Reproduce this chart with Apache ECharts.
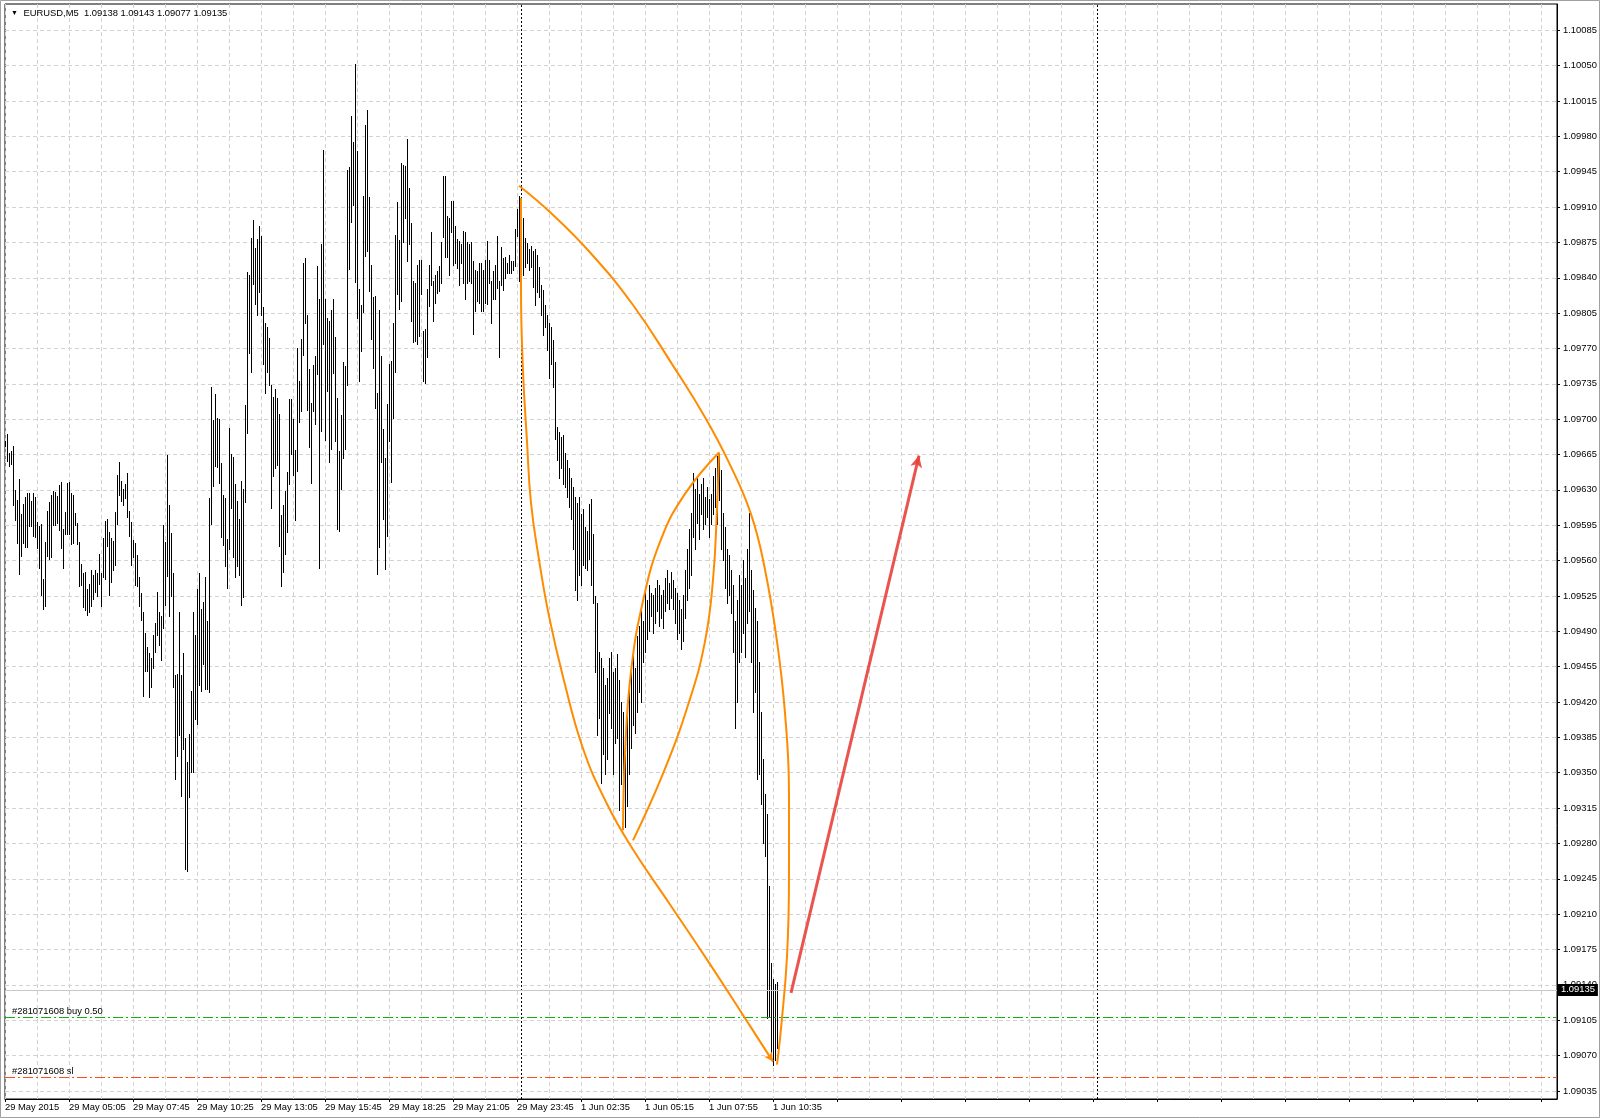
<!DOCTYPE html>
<html><head><meta charset="utf-8">
<script src="https://cdn.jsdelivr.net/npm/echarts@6/dist/echarts.min.js"></script>
<style>html,body{margin:0;padding:0;background:#fff}#c{width:1600px;height:1118px}</style>
</head><body><div id="c"></div>
<script>
const symbolName = 'EURUSD,M5';
const lastOHLC = ['1.09138', '1.09143', '1.09077', '1.09135'];

const highs = [
1.09678,1.09685,1.09667,1.09668,1.09673,1.09630,1.09620,1.09641,1.09606,1.09616,
1.09623,1.09627,1.09627,1.09619,1.09627,1.09623,1.09598,1.09594,1.09596,1.09542,
1.09578,1.09609,1.09618,1.09625,1.09629,1.09628,1.09624,1.09635,1.09638,1.09591,
1.09608,1.09637,1.09638,1.09627,1.09625,1.09607,1.09597,1.09578,1.09557,1.09548,
1.09549,1.09532,1.09537,1.09551,1.09546,1.09551,1.09548,1.09567,1.09548,1.09582,
1.09599,1.09601,1.09588,1.09582,1.09579,1.09608,1.09645,1.09658,1.09639,1.09631,
1.09636,1.09647,1.09609,1.09598,1.09580,1.09577,1.09566,1.09544,1.09528,1.09509,
1.09488,1.09474,1.09469,1.09464,1.09486,1.09498,1.09529,1.09509,1.09505,1.09595,
1.09578,1.09665,1.09615,1.09587,1.09548,1.09447,1.09448,1.09509,1.09447,1.09469,
1.09384,1.09361,1.09388,1.09431,1.09509,1.09486,1.09532,1.09548,1.09512,1.09519,
1.09544,1.09500,1.09622,1.09732,1.09699,1.09725,1.09701,1.09700,1.09657,1.09625,
1.09622,1.09581,1.09691,1.09666,1.09663,1.09636,1.09619,1.09601,1.09639,1.09631,
1.09714,1.09846,1.09843,1.09879,1.09897,1.09869,1.09878,1.09891,1.09881,1.09811,
1.09795,1.09791,1.09780,1.09734,1.09722,1.09730,1.09721,1.09705,1.09605,1.09615,
1.09629,1.09648,1.09720,1.09720,1.09700,1.09669,1.09770,1.09738,1.09779,1.09855,
1.09860,1.09803,1.09750,1.09716,1.09754,1.09763,1.09852,1.09819,1.09873,1.09966,
1.09819,1.09800,1.09797,1.09808,1.09819,1.09781,1.09721,1.09668,1.09704,1.09757,
1.09753,1.09947,1.09950,1.10000,1.09974,1.10052,1.09965,1.09829,1.09813,1.09921,
1.09991,1.10006,1.09920,1.09853,1.09821,1.09822,1.09726,1.09808,1.09763,1.09690,
1.09662,1.09715,1.09755,1.09758,1.09795,1.09882,1.09915,1.09877,1.09954,1.09952,
1.09951,1.09977,1.09929,1.09894,1.09837,1.09835,1.09853,1.09858,1.09858,1.09787,
1.09789,1.09829,1.09853,1.09885,1.09837,1.09843,1.09847,1.09852,1.09875,1.09941,
1.09941,1.09901,1.09899,1.09916,1.09916,1.09891,1.09878,1.09876,1.09873,1.09886,
1.09885,1.09875,1.09873,1.09875,1.09857,1.09848,1.09847,1.09855,1.09855,1.09848,
1.09858,1.09876,1.09858,1.09837,1.09847,1.09853,1.09881,1.09837,1.09870,1.09860,
1.09861,1.09855,1.09863,1.09857,1.09857,1.09888,1.09908,1.09921,1.09919,1.09899,
1.09879,1.09874,1.09868,1.09871,1.09866,1.09868,1.09863,1.09851,1.09833,1.09828,
1.09813,1.09803,1.09795,1.09791,1.09778,1.09757,1.09692,1.09687,1.09682,1.09684,
1.09667,1.09660,1.09652,1.09642,1.09633,1.09623,1.09617,1.09623,1.09606,1.09611,
1.09593,1.09589,1.09616,1.09621,1.09586,1.09525,1.09518,1.09470,1.09464,1.09454,
1.09437,1.09444,1.09464,1.09470,1.09450,1.09454,1.09468,1.09442,1.09420,1.09410,
1.09389,1.09420,1.09442,1.09450,1.09470,1.09454,1.09485,1.09495,1.09510,1.09500,
1.09531,1.09521,1.09536,1.09528,1.09526,1.09533,1.09541,1.09536,1.09526,1.09531,
1.09543,1.09551,1.09538,1.09549,1.09541,1.09533,1.09528,1.09521,1.09512,1.09526,
1.09551,1.09571,1.09591,1.09607,1.09647,1.09631,1.09642,1.09626,1.09636,1.09642,
1.09623,1.09633,1.09621,1.09626,1.09644,1.09652,1.09664,1.09667,1.09650,1.09607,
1.09593,1.09571,1.09566,1.09551,1.09536,1.09500,1.09521,1.09546,1.09536,1.09561,
1.09543,1.09571,1.09607,1.09551,1.09531,1.09513,1.09500,1.09460,1.09410,1.09364,
1.09329,1.09309,1.09238,1.09162,1.09146,1.09141,1.09143
];

const lows = [
1.09673,1.09659,1.09654,1.09656,1.09615,1.09600,1.09577,1.09547,1.09565,1.09577,
1.09573,1.09573,1.09594,1.09594,1.09584,1.09583,1.09572,1.09553,1.09526,1.09512,
1.09515,1.09565,1.09562,1.09564,1.09595,1.09595,1.09597,1.09590,1.09572,1.09553,
1.09586,1.09586,1.09586,1.09576,1.09577,1.09595,1.09576,1.09535,1.09536,1.09514,
1.09511,1.09506,1.09509,1.09515,1.09522,1.09529,1.09525,1.09537,1.09515,1.09544,
1.09542,1.09574,1.09526,1.09539,1.09551,1.09556,1.09596,1.09625,1.09619,1.09615,
1.09622,1.09603,1.09584,1.09556,1.09564,1.09536,1.09535,1.09515,1.09501,1.09426,
1.09451,1.09451,1.09425,1.09435,1.09454,1.09470,1.09486,1.09476,1.09462,1.09493,
1.09516,1.09545,1.09505,1.09525,1.09435,1.09344,1.09367,1.09387,1.09327,1.09373,
1.09255,1.09253,1.09326,1.09351,1.09351,1.09403,1.09398,1.09437,1.09431,1.09458,
1.09433,1.09433,1.09430,1.09596,1.09634,1.09654,1.09653,1.09637,1.09583,1.09575,
1.09555,1.09533,1.09571,1.09612,1.09564,1.09544,1.09555,1.09546,1.09516,1.09524,
1.09618,1.09686,1.09766,1.09747,1.09834,1.09814,1.09803,1.09826,1.09803,1.09755,
1.09726,1.09747,1.09734,1.09612,1.09644,1.09652,1.09655,1.09574,1.09535,1.09549,
1.09567,1.09588,1.09636,1.09666,1.09645,1.09600,1.09649,1.09697,1.09708,1.09764,
1.09795,1.09709,1.09672,1.09637,1.09708,1.09695,1.09745,1.09553,1.09688,1.09774,
1.09679,1.09728,1.09658,1.09670,1.09746,1.09678,1.09591,1.09589,1.09631,1.09662,
1.09670,1.09734,1.09849,1.09895,1.09912,1.09836,1.09800,1.09738,1.09767,1.09806,
1.09862,1.09866,1.09827,1.09779,1.09751,1.09711,1.09547,1.09573,1.09658,1.09601,
1.09552,1.09584,1.09678,1.09638,1.09701,1.09747,1.09824,1.09809,1.09817,1.09875,
1.09899,1.09857,1.09873,1.09797,1.09776,1.09777,1.09774,1.09782,1.09824,1.09738,
1.09736,1.09762,1.09812,1.09833,1.09797,1.09815,1.09825,1.09827,1.09835,1.09880,
1.09861,1.09861,1.09843,1.09885,1.09853,1.09855,1.09850,1.09833,1.09855,1.09835,
1.09819,1.09835,1.09837,1.09835,1.09784,1.09807,1.09817,1.09815,1.09807,1.09807,
1.09815,1.09814,1.09835,1.09795,1.09819,1.09819,1.09830,1.09762,1.09833,1.09828,
1.09840,1.09845,1.09845,1.09845,1.09848,1.09852,1.09881,1.09837,1.09828,1.09843,
1.09851,1.09855,1.09848,1.09851,1.09831,1.09813,1.09826,1.09821,1.09803,1.09783,
1.09791,1.09768,1.09741,1.09755,1.09732,1.09680,1.09660,1.09642,1.09652,1.09636,
1.09633,1.09623,1.09613,1.09601,1.09571,1.09531,1.09521,1.09546,1.09536,1.09556,
1.09553,1.09551,1.09562,1.09536,1.09518,1.09450,1.09387,1.09404,1.09340,1.09369,
1.09349,1.09364,1.09409,1.09394,1.09349,1.09379,1.09384,1.09313,1.09339,1.09324,
1.09296,1.09317,1.09349,1.09374,1.09397,1.09389,1.09410,1.09430,1.09420,1.09460,
1.09470,1.09482,1.09490,1.09505,1.09488,1.09498,1.09510,1.09495,1.09503,1.09493,
1.09510,1.09518,1.09512,1.09523,1.09512,1.09498,1.09482,1.09488,1.09472,1.09480,
1.09503,1.09521,1.09533,1.09546,1.09583,1.09571,1.09597,1.09581,1.09606,1.09591,
1.09596,1.09603,1.09583,1.09596,1.09606,1.09613,1.09596,1.09620,1.09571,1.09561,
1.09533,1.09518,1.09526,1.09508,1.09470,1.09394,1.09420,1.09460,1.09470,1.09488,
1.09465,1.09498,1.09510,1.09460,1.09410,1.09430,1.09344,1.09349,1.09319,1.09280,
1.09268,1.09107,1.09109,1.09072,1.09061,1.09066,1.09077
];

// x-axis tick labels (one every 32 bars)
const xTickLabels = ['29 May 2015','29 May 05:05','29 May 07:45','29 May 10:25','29 May 13:05',
  '29 May 15:45','29 May 18:25','29 May 21:05','29 May 23:45','1 Jun 02:35','1 Jun 05:15',
  '1 Jun 07:55','1 Jun 10:35'];
// y-axis tick values
const yTickValues = [1.09035,1.09070,1.09105,1.09140,1.09175,1.09210,1.09245,1.09280,1.09315,1.09350,
  1.09385,1.09420,1.09455,1.09490,1.09525,1.09560,1.09595,1.09630,1.09665,1.09700,1.09735,1.09770,
  1.09805,1.09840,1.09875,1.09910,1.09945,1.09980,1.10015,1.10050,1.10085];

const bidPrice = 1.09135;
const buyPrice = 1.09108;
const slPrice = 1.09049;
const orderLabels = ['#281071608 buy 0.50', '#281071608 sl'];
const daySeparators = [258, 546];
const totalSlots = 777;

// drawn annotation objects: [bar index, price]
const outerArc = [[257,1.09931],[273,1.09904],[293,1.09864],[314,1.09813],[334,1.09753],[350,1.09702],
  [362,1.09657],[373,1.09606],[380,1.09551],[386,1.09480],[390,1.09409],[392,1.09329],[392,1.09248],
  [391,1.09168],[388,1.09097],[386,1.09061]];
const leftArc = [[258,1.09919],[258,1.09830],[259,1.09748],[261,1.09678],[263,1.09617],[267,1.09561],
  [272,1.09505],[279,1.09445],[289,1.09374],[301,1.09319],[314,1.09274],[332,1.09221],[352,1.09162],
  [370,1.09107],[384,1.09064]];
const innerUp = [[309,1.09293],[310,1.09369],[313,1.09450],[319,1.09520],[328,1.09581],[340,1.09626],[357,1.09667]];
const innerDown = [[357,1.09667],[356,1.09611],[354,1.09541],[350,1.09480],[342,1.09420],[329,1.09349],[314,1.09283]];
const redArrow = [[393,1.09132],[457,1.09664]];

// categories: 5-minute bar times
const categories = [];
const pad = n => (n < 10 ? '0' : '') + n;
for (let i = 0; i < totalSlots; i++) {
  let t;
  if (i < 258) t = Date.UTC(2015, 4, 29, 2, 25) + i * 300000;
  else t = Date.UTC(2015, 5, 1, 0, 5) + (i - 258) * 300000;
  const d = new Date(t);
  const mon = ['Jan','Feb','Mar','Apr','May','Jun','Jul','Aug','Sep','Oct','Nov','Dec'][d.getUTCMonth()];
  categories.push(d.getUTCDate() + ' ' + mon + ' ' + pad(d.getUTCHours()) + ':' + pad(d.getUTCMinutes()));
}

const barData = highs.map((h, i) => [i, h, lows[i]]);
const FONT = 'Liberation Sans';
const FS = 9.4;
const ORANGE = '#ff8c00';

const chart = echarts.init(document.getElementById('c'), null, {renderer: 'canvas'});
// arc line; optional arrowhead on the last point
const arcSeries = (data, headRotate) => ({
  type: 'line', silent: true, smooth: 0.45, showSymbol: true, symbol: 'none',
  lineStyle: {color: ORANGE, width: 2}, itemStyle: {color: ORANGE}, z: 5,
  data: data.map((p, k) => (headRotate != null && k === data.length - 1)
    ? {value: p, symbol: 'arrow', symbolSize: [7, 9], symbolRotate: headRotate, symbolOffset: [0, 0]}
    : p)
});
chart.setOption({
  animation: false,
  backgroundColor: '#fff',
  title: {
    text: '{t|▼} ' + symbolName + '  ' + lastOHLC.join(' '),
    left: 6, top: 4,
    textStyle: {fontSize: FS, fontWeight: 'normal', color: '#000', fontFamily: FONT,
      rich: {t: {fontSize: 7, color: '#000', padding: [0, 3, 0, 0]}}}
  },
  graphic: [{type: 'rect', shape: {x: 0.5, y: 0.5, width: 1599, height: 1117},
    style: {fill: 'none', stroke: '#a0a0a0', lineWidth: 1}, silent: true}],
  grid: {left: 5, right: 43, top: 4, bottom: 19, show: true, borderColor: '#000', borderWidth: 1,
    backgroundColor: '#fff'},
  xAxis: {
    type: 'category', data: categories, boundaryGap: false,
    axisLine: {show: true, lineStyle: {color: '#000', width: 1}},
    axisTick: {show: true, interval: 31, length: 3, lineStyle: {color: '#000'}},
    axisLabel: {interval: 31, align: 'left', margin: 4, color: '#000', fontSize: FS, fontFamily: FONT,
      formatter: (v, idx) => xTickLabels[idx / 32] || ''},
    splitLine: {show: true, interval: 15, lineStyle: {color: '#d2d2d2', type: [4, 3], width: 1}}
  },
  yAxis: {
    type: 'value', position: 'right', min: 1.09027, max: 1.10111,
    axisLine: {show: true, lineStyle: {color: '#000'}},
    axisTick: {show: true, length: 3, customValues: yTickValues, lineStyle: {color: '#000'}},
    axisLabel: {customValues: yTickValues, margin: 6, color: '#000', fontSize: FS, fontFamily: FONT,
      formatter: v => v.toFixed(5)},
    splitLine: {show: true, lineStyle: {color: '#d2d2d2', type: [4, 3], width: 1}}
  },
  series: [
    {
      type: 'custom', data: barData, clip: true, z: 3,
      renderItem: (params, api) => {
        const i = api.value(0);
        const top = api.coord([i, api.value(1)]);
        const bot = api.coord([i, api.value(2)]);
        const px = Math.round(top[0]) + 0.5;
        return {type: 'line', shape: {x1: px, y1: Math.round(top[1]), x2: px, y2: Math.round(bot[1]) + 1},
          style: {stroke: '#000', lineWidth: 1}};
      }
    },
    arcSeries(outerArc, 175),
    arcSeries(leftArc, -146),
    arcSeries(innerUp),
    arcSeries(innerDown),
    {
      type: 'line', data: [], silent: true, z: 4,
      markLine: {
        silent: true, symbol: ['none', 'none'], animation: false,
        data: [
          {xAxis: daySeparators[0], lineStyle: {color: '#000', type: [2, 2], width: 1}, label: {show: false}},
          {xAxis: daySeparators[1], lineStyle: {color: '#000', type: [2, 2], width: 1}, label: {show: false}},
          [{coord: [0, bidPrice], lineStyle: {color: '#c8c8c8', type: 'solid', width: 1},
            label: {show: true, position: 'end', distance: 1, formatter: bidPrice.toFixed(5),
              backgroundColor: '#000', color: '#fff', padding: [2, 3, 1, 3], fontSize: FS, fontFamily: FONT}},
           {coord: [totalSlots - 1, bidPrice]}],
          [{coord: [0, buyPrice], lineStyle: {color: '#10b010', type: [10, 3, 2, 3], width: 1.2},
            label: {show: true, position: 'insideStartTop', distance: [7, 1], formatter: orderLabels[0],
              color: '#000', fontSize: FS, fontFamily: FONT}},
           {coord: [totalSlots - 1, buyPrice]}],
          [{coord: [0, slPrice], lineStyle: {color: '#ff4f14', type: [10, 3, 2, 3], width: 1.2},
            label: {show: true, position: 'insideStartTop', distance: [7, 1], formatter: orderLabels[1],
              color: '#000', fontSize: FS, fontFamily: FONT}},
           {coord: [totalSlots - 1, slPrice]}]
        ]
      }
    },
    {
      type: 'line', data: [], silent: true, z: 6,
      markLine: {
        silent: true, animation: false, symbol: ['none', 'arrow'], symbolSize: [9, 12],
        lineStyle: {color: '#e8413c', width: 3, type: 'solid', opacity: 0.9},
        label: {show: false},
        data: [[{coord: redArrow[0]}, {coord: redArrow[1]}]]
      }
    }
  ]
});
</script>
</body></html>
